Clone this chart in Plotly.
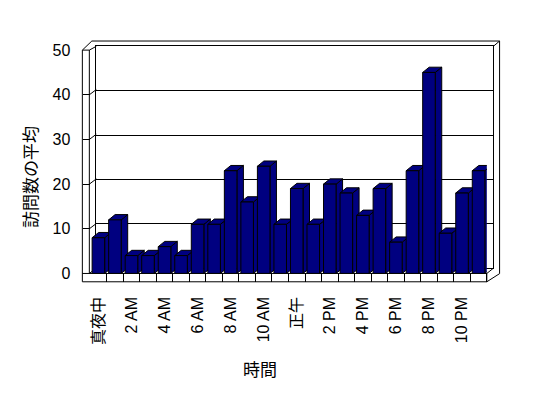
import plotly.graph_objects as go

# ---- data ----
hours = list(range(24))
visits = [8, 12, 4, 4, 6, 4, 11, 11, 23, 16, 24, 11, 19, 11, 20, 18, 13, 19, 7, 23, 45, 9, 18, 23]
tick_hours = [0, 2, 4, 6, 8, 10, 12, 14, 16, 18, 20, 22]
tick_labels = ["真夜中", "2 AM", "4 AM", "6 AM", "8 AM", "10 AM", "正午", "2 PM", "4 PM", "6 PM", "8 PM", "10 PM"]
y_ticks = [0, 10, 20, 30, 40, 50]
x_title = "時間"
y_title = "訪問数の平均"

W, H = 548, 398
NAVY = "#000080"
FONT = "Liberation Sans, Arial, Noto Sans CJK JP, sans-serif"


def px(x):
    return x / W


def py(y):
    return (H - y) / H


# geometry (pixels)
FX0, FX1 = 89.3, 486.7     # front plane x
FY0, FY1 = 277.3, 44.0     # front plane y (0 -> 50)
BX0, BX1 = 95.5, 493.3     # back wall x
BY0, BY1 = 271.8, 40.0     # back wall y (0 -> 50)
OUT_L = 81.5
OUT_T = 34.5
OUT_R = 499.5
FLOOR_B = 286.0

bar_w = 0.76
dx = 6.5 / ((FX1 - FX0) / 24)
dy = 5.5 / ((FY0 - FY1) / 50)

fig = go.Figure()

# back wall (gridlines) subplot
fig.add_trace(go.Scatter(x=[0], y=[0], xaxis="x", yaxis="y", mode="markers",
                         marker=dict(opacity=0), hoverinfo="skip", showlegend=False))

# front bars
fig.add_trace(go.Bar(x=hours, y=visits, xaxis="x2", yaxis="y2", width=bar_w,
                     marker=dict(color=NAVY, line=dict(color="black", width=1)),
                     showlegend=False))

shapes = []
# 3D side and top faces from the data
for h, v in zip(hours, visits):
    xl = h - bar_w / 2
    xr = h + bar_w / 2
    side = f"M{xr},0 L{xr},{v} L{xr+dx},{v+dy} L{xr+dx},{dy} Z"
    top = f"M{xl},{v} L{xl+dx},{v+dy} L{xr+dx},{v+dy} L{xr},{v} Z"
    for p in (side, top):
        shapes.append(dict(type="path", path=p, xref="x2", yref="y2", layer="between",
                           fillcolor=NAVY, line=dict(color="black", width=1)))

# left-wall diagonals for gridlines
for v in y_ticks:
    shapes.append(dict(type="line", xref="paper", yref="y2", layer="below",
                       x0=px(FX0 - 0.8), y0=v, x1=px(BX0), y1=v + dy,
                       line=dict(color="black", width=1)))


def seg(x0, y0, x1, y1):
    shapes.append(dict(type="line", xref="paper", yref="paper", layer="above",
                       x0=px(x0), y0=py(y0), x1=px(x1), y1=py(y1),
                       line=dict(color="black", width=1)))


# frame / walls / floor
seg(OUT_L, FY1, OUT_L, FLOOR_B)            # outer left
seg(FX0 - 0.8, FY1, FX0 - 0.8, FY0)        # inner left (front of left wall)
seg(OUT_L, FY1, FX0 - 0.8, FY1)            # top of left wall front
seg(OUT_L, FY1, 91.0, OUT_T)               # outer diagonal top-left
seg(FX0 - 0.8, FY1, BX0, BY1)              # inner diagonal top-left
seg(91.0, OUT_T, OUT_R, OUT_T)             # outer top
seg(BX1, BY1, OUT_R, OUT_T)                # diagonal top-right
seg(OUT_R, OUT_T, OUT_R, 277.5)            # outer right
seg(OUT_R, 277.5, FX1, FLOOR_B)            # bottom-right diagonal
seg(OUT_L, FLOOR_B, FX1, FLOOR_B)          # floor bottom
seg(OUT_L, FY0, FX1, FY0)                  # floor top (front)
seg(FX1, FY0, FX1, FLOOR_B)                # floor right edge
seg(FX1, FY0, BX1, BY0)                    # floor top right diagonal

fig.update_layout(
    width=W, height=H,
    margin=dict(l=0, r=0, t=0, b=0),
    paper_bgcolor="white", plot_bgcolor="rgba(0,0,0,0)",
    showlegend=False,
    font=dict(family=FONT, color="black", size=15),
    shapes=shapes,
    xaxis=dict(domain=[px(BX0), px(BX1)], range=[-0.5, 23.5], showgrid=False, zeroline=False,
               showticklabels=False, ticks="", showline=True, mirror=True,
               linecolor="black", linewidth=1, anchor="y"),
    yaxis=dict(domain=[py(BY0), py(BY1)], range=[0, 50], tickvals=y_ticks[1:], showgrid=True,
               gridcolor="black", gridwidth=1, zeroline=False, showticklabels=False, ticks="",
               showline=True, mirror=True, linecolor="black", linewidth=1, anchor="x"),
    xaxis2=dict(domain=[px(FX0), px(FX1)], range=[-0.5, 23.5], anchor="free", position=py(FLOOR_B),
                tickmode="array", tickvals=tick_hours, ticktext=tick_labels, tickangle=-90,
                ticks="", showgrid=False, zeroline=False, showline=False,
                ticklabelstandoff=11, tickfont=dict(size=16, color="black"),
                minor=dict(tickmode="array", tickvals=[h + 0.5 for h in hours], ticks="inside",
                           ticklen=9, tickcolor="black", tickwidth=1, showgrid=False)),
    yaxis2=dict(domain=[py(FY0), py(FY1)], range=[0, 50], anchor="free", position=px(OUT_L),
                tickvals=y_ticks, ticks="inside", ticklen=7, tickcolor="black", tickwidth=1,
                showgrid=False, zeroline=False, showline=False, ticklabelstandoff=12,
                tickfont=dict(size=16, color="black")),
    bargap=0.24,
    annotations=[
        dict(text=y_title, x=px(28), y=py(176.7), xref="paper", yref="paper", textangle=-90,
             xanchor="center", yanchor="middle",
             showarrow=False, font=dict(size=17, family="Noto Sans CJK JP", color="black")),
        dict(text=x_title, x=px(259), y=py(376.7), xref="paper", yref="paper",
             xanchor="center", yanchor="middle",
             showarrow=False, font=dict(size=17, family="Noto Sans CJK JP", color="black")),
    ],
)

fig.write_html("out.html")
